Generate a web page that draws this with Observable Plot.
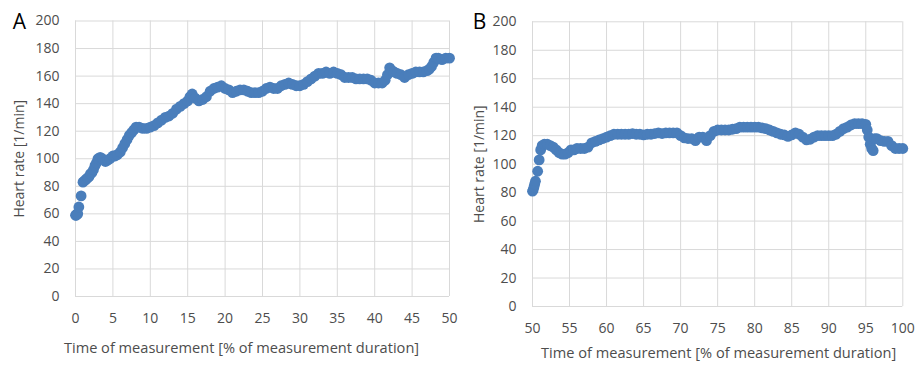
<!DOCTYPE html>
<html>
<head>
<meta charset="utf-8">
<script src="https://cdn.jsdelivr.net/npm/d3@7"></script>
<script src="https://cdn.jsdelivr.net/npm/@observablehq/plot@0.6"></script>
<style>
  body { margin: 0; background: #fff; }
  #wrap { position: relative; width: 919px; height: 365px; background: #fff; }
  #panelA { position: absolute; left: 0; top: 0; }
  #panelB { position: absolute; left: 460px; top: 0; }
  svg { display: block; }
</style>
</head>
<body>
<div id="wrap"><div id="panelA"></div><div id="panelB"></div></div>
<script>
// ---- Data ----
const yTicks = [0, 20, 40, 60, 80, 100, 120, 140, 160, 180, 200];
const xTicksA = [0, 5, 10, 15, 20, 25, 30, 35, 40, 45, 50];
const xTicksB = [50, 55, 60, 65, 70, 75, 80, 85, 90, 95, 100];
const yTitle = "Heart rate [1/min]";
const xTitle = "Time of measurement [% of measurement duration]";

const timeA = [0,0.1,0.2,0.3,0.45, 0.75,1.0,1.2,1.4,1.6, 1.8,2.0,2.2,2.4,2.6, 2.8,3.0,3.3,3.6,4.0,
  4.3,4.6,5.0,5.3,5.6, 6.0,6.3,6.6,6.9,7.2, 7.5,7.8,8.1,8.5,9.0, 9.5,10,10.5,11,11.5,
  12,12.5,13,13.5,14, 14.5,15,15.3,15.6,16, 16.5,17,17.5,18,18.5, 19,19.5,20,20.5,21,
  21.5,22,22.5,23,23.5, 24,24.5,25,25.5,26, 26.5,27,27.5,28,28.5, 29,29.5,30,30.5,31,
  31.5,32,32.5,33,33.5, 34,34.5,35,35.5,36, 36.5,37,37.5,38,38.5, 39,39.5,40,40.5,41,
  41.4,41.7,42,42.3,42.6, 43,43.5,44,44.5,45, 45.5,46,46.5,47,47.3, 47.6,47.9,48.2,48.5,49,
  49.5,50];
const hrA = [59,59,60,60,65, 73,83,84,85,86, 87,89,90,92,95, 97,100,101,100,98,
  99,100,102,102,103, 105,108,111,114,117, 119,121,123,123,122, 122,123,124,126,128,
  130,131,133,136,138, 140,142,145,147,144, 142,143,145,149,151, 152,153,151,150,148,
  149,150,150,149,148, 148,148,149,151,152, 151,151,153,154,155, 154,153,153,154,156,
  158,160,162,162,163, 162,163,162,161,159, 159,159,158,158,158, 158,157,155,155,155,
  157,161,166,164,163, 162,161,159,161,162, 163,163,163,164,165, 167,170,173,173,172,
  173,173];

const timeB = [50,50.1,50.2,50.3,50.4, 50.7,50.9,51.1,51.3,51.6, 52,52.4,52.8,53.2,53.6, 54,54.4,54.8,55.2,55.6,
  56,56.5,57,57.5,58,58.5,59,59.5,60,60.5, 61,61.5,62,62.5,63,63.5,64,64.5,65,65.5,
  66,66.5,67,67.5,68,68.5,69,69.5,70,70.5, 71,71.5,72,72.5,73,73.5,74,74.5,75,75.5,
  76,76.5,77,77.5,78,78.5,79,79.5,80,80.5, 81,81.5,82,82.5,83,83.5,84,84.5,85,85.5,
  86,86.5,87,87.5,88,88.5,89,89.5,90,90.5, 91,91.5,92,92.5,93,93.5,94,94.5,95,
  95.2,95.4,95.6,95.8,96, 96.2,96.5,97,97.5,98,98.5,99,99.5,100];
const hrB = [81,82,84,86,88, 95,103,110,113,114, 114,113,112,110,108, 107,107,108,110,110,
  111,111,111,112,115,116,117,118,119,120, 121,121,121,121,121,121.5,121,121,120.5,121,
  121,121.5,122,121.5,122,122,122,122,120,118.5, 118,118,116.5,119,119,116.5,120,123,124,124,
  124,124,124.5,125,126,126,126,126,126,126, 125.5,125,124,123,122,121,120.5,119.5,120.5,122,
  121,119,117,117.5,119,120,120,120,120,120, 121,123,125,126,127.5,128.5,128.5,128.5,128,
  124,119,114,111,109.5, 118,118,116.5,116,116,113,111,111,111];

const letters = ["A", "B"];

const FONT = "'Open Sans', 'DejaVu Sans', sans-serif";
const TEXT = "#4d4d4d";
const GRID = "#d9d9d9";
const DOT = "#4a7ebb";

function panel({time, hr, xTicks, letter, width, height, mL, mR, mT, mB, titleDx, titleDy}) {
  const data = time.map((t, i) => ({t, hr: hr[i]}));
  return Plot.plot({
    width, height,
    marginLeft: mL, marginRight: mR, marginTop: mT, marginBottom: mB,
    style: {fontFamily: FONT, fontSize: "14px", color: TEXT, background: "#fff", overflow: "visible"},
    x: {domain: [xTicks[0], xTicks[xTicks.length - 1]], ticks: xTicks, tickSize: 0, tickPadding: 17, label: null},
    y: {domain: [0, 200], ticks: yTicks, tickSize: 0, tickPadding: 16, label: null},
    marks: [
      Plot.ruleX(xTicks, {stroke: GRID, strokeWidth: 1}),
      Plot.ruleY(yTicks, {stroke: GRID, strokeWidth: 1}),
      Plot.dot(data, {x: "t", y: "hr", r: 5.4, fill: DOT, stroke: null}),
      Plot.text([letter], {text: d => d, frameAnchor: "top-left", dx: 19 - mL, dy: 22 - mT,
        textAnchor: "middle", lineAnchor: "middle", fontSize: 21, fill: "#000"}),
      Plot.text([yTitle], {text: d => d, frameAnchor: "left", dx: 19.5 - mL, rotate: -90,
        textAnchor: "middle", lineAnchor: "middle", fontSize: 14, fill: TEXT}),
      Plot.text([xTitle], {text: d => d, frameAnchor: "bottom", dx: titleDx, dy: titleDy,
        textAnchor: "middle", lineAnchor: "middle", fontSize: 14.6, fill: TEXT})
    ]
  });
}

document.getElementById("panelA").appendChild(panel({
  time: timeA, hr: hrA, xTicks: xTicksA, letter: letters[0],
  width: 460, height: 365, mL: 75, mR: 11, mT: 20.5, mB: 69, titleDx: -21, titleDy: 52
}));
document.getElementById("panelB").appendChild(panel({
  time: timeB, hr: hrB, xTicks: xTicksB, letter: letters[1],
  width: 459, height: 365, mL: 72, mR: 16.7, mT: 21.3, mB: 59, titleDx: 1, titleDy: 47
}));
</script>
</body>
</html>
